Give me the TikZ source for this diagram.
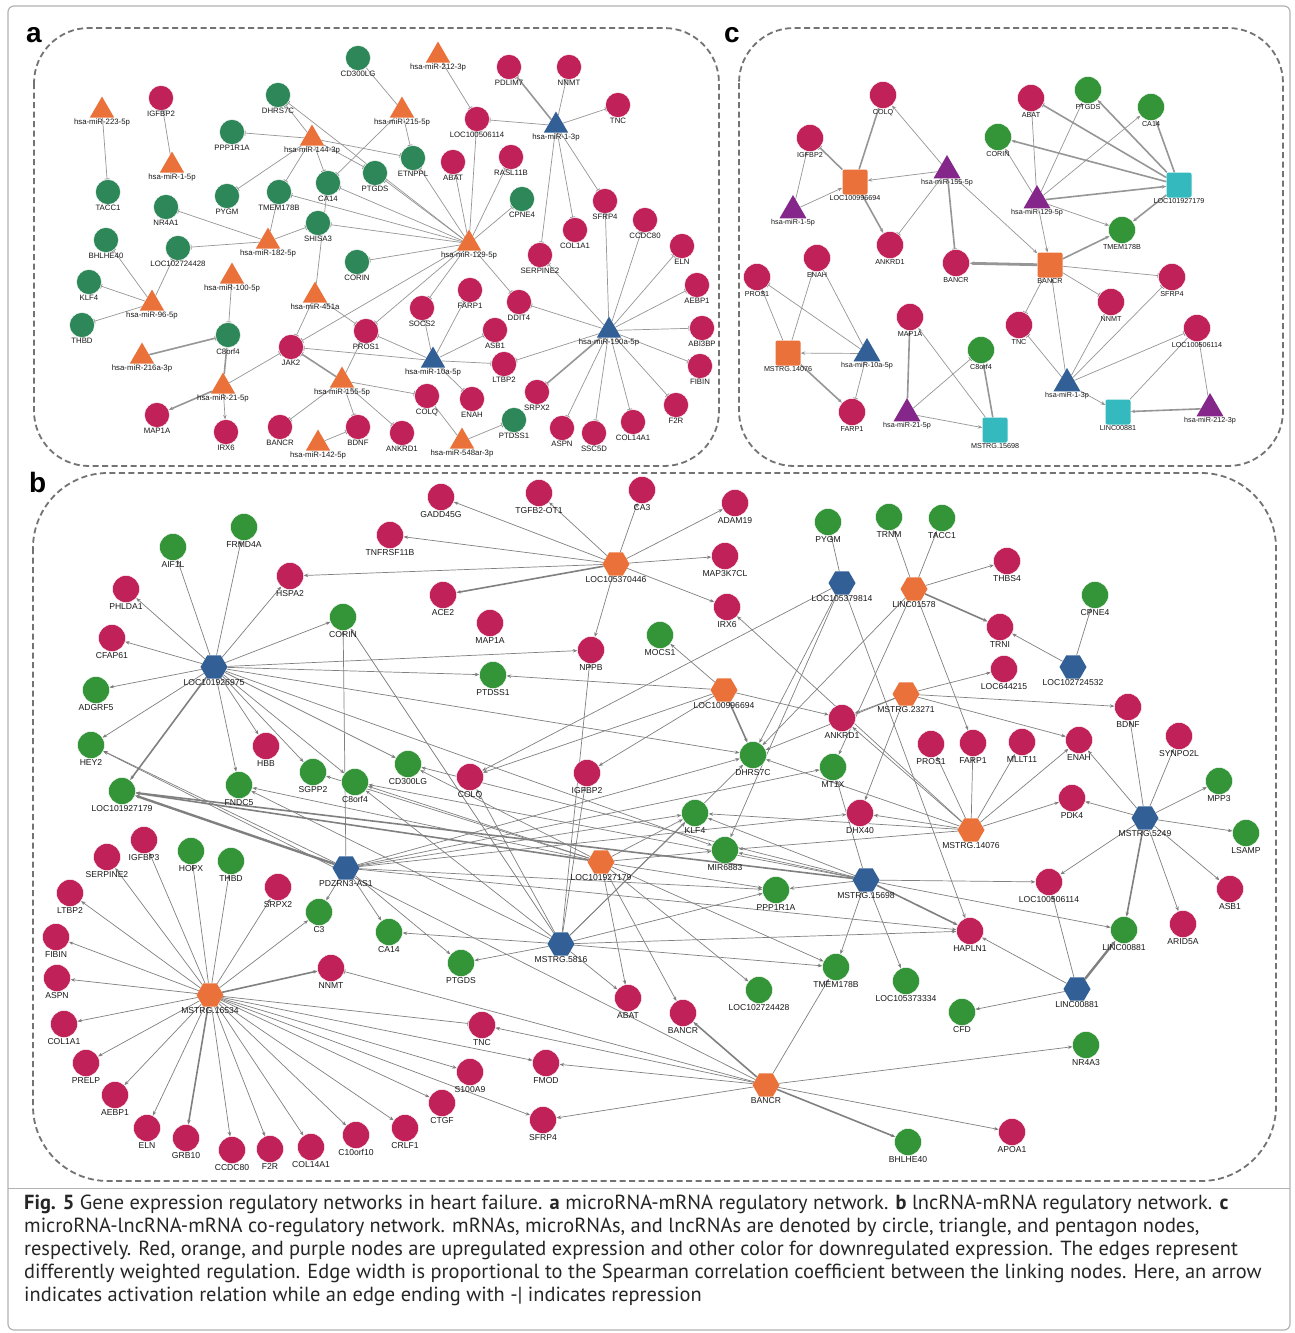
\documentclass[tikz,border=0pt]{standalone}
\usepackage{fontspec}
\setmainfont{Liberation Sans}
\newfontfamily\capfont{PT Sans}
\usetikzlibrary{shapes.geometric,arrows.meta}
\pgfdeclarelayer{bg}
\pgfsetlayers{bg,main}

\definecolor{upred}{RGB}{192,33,88}
\definecolor{dngreena}{RGB}{46,135,88}
\definecolor{dngreen}{RGB}{52,148,56}
\definecolor{mirorange}{RGB}{234,114,58}
\definecolor{mirblue}{RGB}{50,96,150}
\definecolor{mirpurple}{RGB}{132,38,138}
\definecolor{lnteal}{RGB}{52,186,190}
\definecolor{edgegray}{RGB}{150,150,150}
\definecolor{boxgray}{RGB}{115,115,115}

\tikzset{
  mup/.style={circle,fill=upred,draw=white,line width=0.4pt,minimum size=25pt,inner sep=0pt},
  mdn/.style={mup,fill=dngreen},
  tri/.style={regular polygon,regular polygon sides=3,minimum size=28pt,inner sep=0pt,yshift=-3.5pt},
  mirup/.style={tri,fill=mirorange},
  mirdn/.style={tri,fill=mirblue},
  mirpu/.style={tri,fill=mirpurple},
  hex/.style={regular polygon,regular polygon sides=6,minimum size=27pt,inner sep=0pt},
  lnup/.style={hex,fill=mirorange},
  lndn/.style={hex,fill=mirblue},
  sq/.style={rectangle,rounded corners=2pt,minimum size=25pt,inner sep=0pt},
  squp/.style={sq,fill=mirorange},
  sqdn/.style={sq,fill=lnteal},
  link/.style={draw=edgegray,line width=0.7pt},
  act/.style={link,-{Stealth[length=4.5pt,width=3.5pt]}},
  rep/.style={link,-{Bar[width=5pt,line width=0.8pt]}},
  thk/.style={line width=1.6pt},
  panel/.style={draw=boxgray,line width=1.8pt,dash pattern=on 6pt off 3.5pt,rounded corners=55pt},
  plabel/.style={font=\fontsize{28}{28}\selectfont\bfseries,anchor=base west,inner sep=0pt}
}

\begin{document}
\begin{tikzpicture}[x=1pt,y=-1pt]
\useasboundingbox (0,0) rectangle (1295,1333);
\begin{pgfonlayer}{bg}
\fill[white] (0,0) rectangle (1295,1333);
\end{pgfonlayer}
\draw[black!30,line width=1.2pt,rounded corners=6pt] (8,6) rectangle (1290,1330);
\draw[black!30,line width=1pt] (8,1188) -- (1290,1188);

\draw[panel] (34,28) rectangle (719,466);
\draw[panel] (739,28) rectangle (1283,466);
\draw[panel,rounded corners=75pt] (33,473) rectangle (1276,1181);
\node[plabel] (la) at (26,42) {a};
\node[plabel] (lc) at (724,42) {c};
\node[plabel] (lb) at (29,492) {b};

% panel a
\begin{scope}[every label/.style={font=\fontsize{7.8}{8}\selectfont,inner sep=0.6pt,text=black!90},mdn/.append style={fill=dngreena}]
\node[mirup,label=below:hsa-miR-223-5p] (aM223) at (102,107) {};
\node[mirup,label=below:hsa-miR-212-3p] (aM212) at (438,52) {};
\node[mirup,label=below:hsa-miR-215-5p] (aM215) at (402,107) {};
\node[mirup,label=below:hsa-miR-144-3p] (aM144) at (312,135) {};
\node[mirup,label=below:hsa-miR-1-5p] (aM15p) at (172,162) {};
\node[mirup,label=below:hsa-miR-182-5p] (aM182) at (268,238) {};
\node[mirup,label=below:hsa-miR-129-5p] (aM129) at (469,240) {};
\node[mirup,label=below:hsa-miR-100-5p] (aM100) at (232,273) {};
\node[mirup,label=below:hsa-miR-96-5p] (aM96) at (152,300) {};
\node[mirup,label=below:hsa-miR-451a] (aM451) at (315,292) {};
\node[mirup,label=below:hsa-miR-216a-3p] (aM216) at (142,353) {};
\node[mirup,label=below:hsa-miR-21-5p] (aM21) at (223,383) {};
\node[mirup,label=below:hsa-miR-155-5p] (aM155) at (342,377) {};
\node[mirup,label=below:hsa-miR-142-5p] (aM142) at (318,440) {};
\node[mirup,label=below:hsa-miR-548ar-3p] (aM548) at (462,438) {};
\node[mirdn,label=below:hsa-miR-1-3p] (aM13p) at (556,122) {};
\node[mirdn,label=below:hsa-miR-10a-5p] (aM10a) at (433,357) {};
\node[mirdn,label=below:hsa-miR-190a-5p] (aM190) at (609,327) {};
\node[mup,label=below:IGFBP2] (aIGFBP2) at (161,98) {};
\node[mup,label=below:PDLIM7] (aPDLIM7) at (509,67) {};
\node[mup,label=below:NNMT] (aNNMT) at (569,67) {};
\node[mup,label=below:TNC] (aTNC) at (618,105) {};
\node[mup,label=below:LOC100506114] (aLOC506) at (477,119) {};
\node[mup,label=below:ABAT] (aABAT) at (453,162) {};
\node[mup,label=below:RASL11B] (aRASL) at (511,157) {};
\node[mup,label=below:SFRP4] (aSFRP4) at (605,201) {};
\node[mup,label=below:CCDC80] (aCCDC80) at (645,220) {};
\node[mup,label=below:COL1A1] (aCOL1A1) at (575,230) {};
\node[mup,label=below:ELN] (aELN) at (682,246) {};
\node[mup,label=below:SERPINE2] (aSERPINE2) at (540,255) {};
\node[mup,label=below:AEBP1] (aAEBP1) at (697,285) {};
\node[mup,label=below:FARP1] (aFARP1) at (470,290) {};
\node[mup,label=below:DDIT4] (aDDIT4) at (519,302) {};
\node[mup,label=below:SOCS2] (aSOCS2) at (422,308) {};
\node[mup,label=below:PROS1] (aPROS1) at (366,331) {};
\node[mup,label=below:ASB1] (aASB1) at (495,330) {};
\node[mup,label=below:ABI3BP] (aABI3BP) at (702,328) {};
\node[mup,label=below:JAK2] (aJAK2) at (291,347) {};
\node[mup,label=below:LTBP2] (aLTBP2) at (504,364) {};
\node[mup,label=below:FIBIN] (aFIBIN) at (700,366) {};
\node[mup,label=below:SRPX2] (aSRPX2) at (537,392) {};
\node[mup,label=below:COLQ] (aCOLQ) at (427,396) {};
\node[mup,label=below:ENAH] (aENAH) at (472,399) {};
\node[mup,label=below:F2R] (aF2R) at (676,405) {};
\node[mup,label=below:MAP1A] (aMAP1A) at (157,415) {};
\node[mup,label=below:IRX6] (aIRX6) at (226,432) {};
\node[mup,label=below:BANCR] (aBANCR) at (280,427) {};
\node[mup,label=below:BDNF] (aBDNF) at (358,427) {};
\node[mup,label=below:ANKRD1] (aANKRD1) at (402,433) {};
\node[mup,label=below:ASPN] (aASPN) at (562,428) {};
\node[mup,label=below:SSC5D] (aSSC5D) at (594,433) {};
\node[mup,label=below:COL14A1] (aCOL14A1) at (633,422) {};
\node[mdn,label=below:CD300LG] (aCD300LG) at (358,58) {};
\node[mdn,label=below:DHRS7C] (aDHRS7C) at (278,95) {};
\node[mdn,label=below:PPP1R1A] (aPPP1R1A) at (232,132) {};
\node[mdn,label=below:TACC1] (aTACC1) at (108,192) {};
\node[mdn,label=below:NR4A1] (aNR4A1) at (166,207) {};
\node[mdn,label=below:PYGM] (aPYGM) at (227,196) {};
\node[mdn,label=below:TMEM178B] (aTMEM178B) at (279,192) {};
\node[mdn,label=below:CA14] (aCA14) at (328,183) {};
\node[mdn,label=below:PTGDS] (aPTGDS) at (375,173) {};
\node[mdn,label=below:SHISA3] (aSHISA3) at (318,223) {};
\node[mdn,label=below:ETNPPL] (aETNPPL) at (413,158) {};
\node[mdn,label=below:CPNE4] (aCPNE4) at (522,199) {};
\node[mdn,label=below:BHLHE40] (aBHLHE40) at (106,240) {};
\node[mdn,label=below:LOC102724428] (aLOC428) at (178,248) {};
\node[mdn,label=below:CORIN] (aCORIN) at (357,262) {};
\node[mdn,label=below:KLF4] (aKLF4) at (89,282) {};
\node[mdn,label=below:THBD] (aTHBD) at (82,325) {};
\node[mdn,label=below:C8orf4] (aC8orf4) at (228,335) {};
\node[mdn,label=below:PTDSS1] (aPTDSS1) at (514,420) {};
\end{scope}

% panel c
\begin{scope}[every label/.style={font=\fontsize{7.2}{8}\selectfont,inner sep=0.6pt,text=black!90},mup/.append style={minimum size=27pt},tri/.append style={minimum size=31pt}]
\node[mup,label=below:COLQ] (cCOLQ) at (883,95) {};
\node[mup,label=below:IGFBP2] (cIGFBP2) at (810,138) {};
\node[mup,label=below:ABAT] (cABAT) at (1031,98) {};
\node[mdn,label=below:PTGDS] (cPTGDS) at (1088,90) {};
\node[mdn,label=below:CA14] (cCA14) at (1151,107) {};
\node[mdn,label=below:CORIN] (cCORIN) at (998,137) {};
\node[mirpu,label=below:hsa-miR-155-5p] (cM155) at (947,167) {};
\node[squp,label=below:LOC100996694] (cL996694) at (855,182) {};
\node[mirpu,label=below:hsa-miR-1-5p] (cM15p) at (793,207) {};
\node[mirpu,label=below:hsa-miR-129-5p] (cM129) at (1037,197) {};
\node[sqdn,label=below:LOC101927179] (cL927179) at (1179,185) {};
\node[mdn,label=below:TMEM178B] (cTMEM178B) at (1122,230) {};
\node[mup,label=below:ANKRD1] (cANKRD1) at (890,245) {};
\node[mup,label=below:BANCR] (cBANCR) at (956,263) {};
\node[squp,label=below:BANCR] (cBANCRs) at (1050,265) {};
\node[mup,label=below:ENAH] (cENAH) at (817,258) {};
\node[mup,label=below:PROS1] (cPROS1) at (757,277) {};
\node[mup,label=below:SFRP4] (cSFRP4) at (1172,277) {};
\node[mup,label=below:NNMT] (cNNMT) at (1111,302) {};
\node[mup,label=below:TNC] (cTNC) at (1019,325) {};
\node[mup,label=below:MAP1A] (cMAP1A) at (910,317) {};
\node[mup,label=below:LOC100506114] (cL506114) at (1197,328) {};
\node[squp,label=below:MSTRG.14076] (cMS14076) at (788,353) {};
\node[mirdn,label=below:hsa-miR-10a-5p] (cM10a) at (867,350) {};
\node[mdn,label=below:C8orf4] (cC8orf4) at (981,350) {};
\node[mirdn,label=below:hsa-miR-1-3p] (cM13p) at (1067,380) {};
\node[mirpu,label=below:hsa-miR-21-5p] (cM21) at (907,410) {};
\node[mup,label=below:FARP1] (cFARP1) at (852,412) {};
\node[sqdn,label=below:LINC00881] (cLINC881) at (1118,412) {};
\node[mirpu,label=below:hsa-miR-212-3p] (cM212) at (1210,405) {};
\node[sqdn,label=below:MSTRG.15698] (cMS15698) at (995,430) {};
\end{scope}

% panel b
\begin{scope}[every label/.style={font=\fontsize{8.6}{9}\selectfont,inner sep=0.8pt,text=black!90},mup/.append style={minimum size=27pt}]
\node[lndn,label=below:LOC101926975] (bL926975) at (214,667) {};
\node[lnup,label=below:LOC105370446] (bL370446) at (616,564) {};
\node[lndn,label=below:LOC105379814] (bL379814) at (842,583) {};
\node[lnup,label=below:LINC01578] (bLINC01578) at (914,589) {};
\node[lndn,label=below:LOC102724532] (bL724532) at (1073,667) {};
\node[lnup,label=below:LOC100996694] (bL996694) at (724,690) {};
\node[lnup,label=below:MSTRG.23271] (bMS23271) at (906,694) {};
\node[lnup,label=below:MSTRG.14076] (bMS14076) at (971,830) {};
\node[lndn,label=below:MSTRG.5249] (bMS5249) at (1145,818) {};
\node[lndn,label=below:PDZRN3-AS1] (bPDZ) at (346,868) {};
\node[lnup,label=below:LOC101927179] (bL927179) at (601,862) {};
\node[lndn,label=below:MSTRG.15698] (bMS15698) at (866,880) {};
\node[lndn,label=below:MSTRG.5816] (bMS5816) at (561,944) {};
\node[lnup,label=below:MSTRG.16534] (bMS16534) at (210,995) {};
\node[lndn,label=below:LINC00881] (bLINC881) at (1077,989) {};
\node[lnup,label=below:BANCR] (bBANCRh) at (766,1085) {};
\node[mup,label=below:GADD45G] (bGADD45G) at (441,497) {};
\node[mup,label=below:TNFRSF11B] (bTNFRSF11B) at (390,535) {};
\node[mup,label=below:TGFB2-OT1] (bTGFB2) at (539,493) {};
\node[mup,label=below:CA3] (bCA3) at (642,490) {};
\node[mup,label=below:ADAM19] (bADAM19) at (735,503) {};
\node[mup,label=below:HSPA2] (bHSPA2) at (290,576) {};
\node[mup,label=below:PHLDA1] (bPHLDA1) at (126,589) {};
\node[mup,label=below:ACE2] (bACE2) at (443,595) {};
\node[mup,label=below:MAP3K7CL] (bMAP3K7CL) at (725,556) {};
\node[mup,label=below:THBS4] (bTHBS4) at (1007,561) {};
\node[mup,label=below:CFAP61] (bCFAP61) at (112,638) {};
\node[mup,label=below:IRX6] (bIRX6) at (727,607) {};
\node[mup,label=below:MAP1A] (bMAP1A) at (490,623) {};
\node[mup,label=below:TRNI] (bTRNI) at (1000,627) {};
\node[mup,label=below:NPPB] (bNPPB) at (591,650) {};
\node[mup,label=below:LOC644215] (bLOC644215) at (1004,669) {};
\node[mup,label=below:BDNF] (bBDNF) at (1128,707) {};
\node[mup,label=below:ANKRD1] (bANKRD1) at (842,718) {};
\node[mup,label=below:HBB] (bHBB) at (266,746) {};
\node[mup,label=below:PROS1] (bPROS1) at (931,744) {};
\node[mup,label=below:FARP1] (bFARP1) at (973,743) {};
\node[mup,label=below:MLLT11] (bMLLT11) at (1022,742) {};
\node[mup,label=below:ENAH] (bENAH) at (1079,740) {};
\node[mup,label=below:SYNPO2L] (bSYNPO2L) at (1179,736) {};
\node[mup,label=below:COLQ] (bCOLQ) at (470,777) {};
\node[mup,label=below:IGFBP2] (bIGFBP2) at (587,773) {};
\node[mup,label=below:PDK4] (bPDK4) at (1072,798) {};
\node[mup,label=below:DHX40] (bDHX40) at (860,813) {};
\node[mup,label=below:IGFBP3] (bIGFBP3) at (144,840) {};
\node[mup,label=below:SERPINE2] (bSERPINE2) at (107,857) {};
\node[mup,label=below:SRPX2] (bSRPX2) at (278,887) {};
\node[mup,label=below:LOC100506114] (bLOC506114) at (1049,882) {};
\node[mup,label=below:ASB1] (bASB1) at (1230,889) {};
\node[mup,label=below:LTBP2] (bLTBP2) at (70,893) {};
\node[mup,label=below:HAPLN1] (bHAPLN1) at (970,931) {};
\node[mup,label=below:ARID5A] (bARID5A) at (1183,924) {};
\node[mup,label=below:FIBIN] (bFIBIN) at (56,937) {};
\node[mup,label=below:NNMT] (bNNMT) at (331,968) {};
\node[mup,label=below:ASPN] (bASPN) at (57,978) {};
\node[mup,label=below:ABAT] (bABAT) at (628,998) {};
\node[mup,label=below:BANCR] (bBANCR) at (683,1013) {};
\node[mup,label=below:COL1A1] (bCOL1A1) at (64,1024) {};
\node[mup,label=below:TNC] (bTNC) at (482,1025) {};
\node[mup,label=below:PRELP] (bPRELP) at (86,1063) {};
\node[mup,label=below:FMOD] (bFMOD) at (546,1063) {};
\node[mup,label=below:S100A9] (bS100A9) at (470,1072) {};
\node[mup,label=below:AEBP1] (bAEBP1) at (115,1095) {};
\node[mup,label=below:CTGF] (bCTGF) at (442,1103) {};
\node[mup,label=below:SFRP4] (bSFRP4) at (543,1120) {};
\node[mup,label=below:ELN] (bELN) at (147,1128) {};
\node[mup,label=below:CRLF1] (bCRLF1) at (405,1128) {};
\node[mup,label=below:APOA1] (bAPOA1) at (1012,1132) {};
\node[mup,label=below:C10orf10] (bC10orf10) at (356,1135) {};
\node[mup,label=below:GRB10] (bGRB10) at (186,1138) {};
\node[mup,label=below:COL14A1] (bCOL14A1) at (311,1147) {};
\node[mup,label=below:F2R] (bF2R) at (270,1149) {};
\node[mup,label=below:CCDC80] (bCCDC80) at (232,1150) {};
\node[mdn,label=below:FRMD4A] (bFRMD4A) at (244,527) {};
\node[mdn,label=below:AIF1L] (bAIF1L) at (173,547) {};
\node[mdn,label=below:PYGM] (bPYGM) at (828,522) {};
\node[mdn,label=below:TRNM] (bTRNM) at (889,517) {};
\node[mdn,label=below:TACC1] (bTACC1) at (942,518) {};
\node[mdn,label=below:CPNE4] (bCPNE4) at (1095,595) {};
\node[mdn,label=below:CORIN] (bCORIN) at (343,617) {};
\node[mdn,label=below:MOCS1] (bMOCS1) at (660,635) {};
\node[mdn,label=below:PTDSS1] (bPTDSS1) at (493,675) {};
\node[mdn,label=below:ADGRF5] (bADGRF5) at (96,690) {};
\node[mdn,label=below:HEY2] (bHEY2) at (91,745) {};
\node[mdn,label=below:DHRS7C] (bDHRS7C) at (753,755) {};
\node[mdn,label=below:MT1X] (bMT1X) at (833,767) {};
\node[mdn,label=below:CD300LG] (bCD300LG) at (408,764) {};
\node[mdn,label=below:SGPP2] (bSGPP2) at (313,772) {};
\node[mdn,label=below:C8orf4] (bC8orf4) at (355,782) {};
\node[mdn,label=below:MPP3] (bMPP3) at (1219,781) {};
\node[mdn,label=below:FNDC5] (bFNDC5) at (239,785) {};
\node[mdn,label=below:LOC101927179] (bLOC927179) at (122,791) {};
\node[mdn,label=below:KLF4] (bKLF4) at (695,813) {};
\node[mdn,label=below:LSAMP] (bLSAMP) at (1246,833) {};
\node[mdn,label=below:MIR6883] (bMIR6883) at (725,850) {};
\node[mdn,label=below:HOPX] (bHOPX) at (191,851) {};
\node[mdn,label=below:THBD] (bTHBD) at (231,861) {};
\node[mdn,label=below:PPP1R1A] (bPPP1R1A) at (776,890) {};
\node[mdn,label=below:C3] (bC3) at (319,912) {};
\node[mdn,label=below:LINC00881] (bLINC881g) at (1124,930) {};
\node[mdn,label=below:CA14] (bCA14) at (389,932) {};
\node[mdn,label=below:PTGDS] (bPTGDS) at (461,963) {};
\node[mdn,label=below:TMEM178B] (bTMEM178B) at (836,967) {};
\node[mdn,label=below:LOC105373334] (bLOC105373334) at (906,981) {};
\node[mdn,label=below:LOC102724428] (bLOC724428) at (759,990) {};
\node[mdn,label=below:CFD] (bCFD) at (962,1012) {};
\node[mdn,label=below:NR4A3] (bNR4A3) at (1086,1045) {};
\node[mdn,label=below:BHLHE40] (bBHLHE40) at (908,1142) {};
\end{scope}

\begin{pgfonlayer}{bg}
\draw[rep] (aM223) edge (aTACC1);
\draw[rep] (aM15p) edge (aIGFBP2);
\draw[rep] (aM144) edge (aPPP1R1A) edge (aDHRS7C) edge (aPYGM) edge (aTMEM178B) edge (aCA14) edge (aPTGDS) edge (aETNPPL);
\draw[link] (aCD300LG) -- (aM215);
\draw[rep] (aM215) edge (aETNPPL) edge (aCA14);
\draw[rep] (aM212) edge (aLOC506);
\draw[rep] (aM13p) edge[thk] (aPDLIM7) edge (aNNMT) edge (aTNC) edge (aLOC506) edge (aSFRP4) edge (aCOL1A1) edge (aSERPINE2);
\draw[rep] (aM129) edge (aPTGDS) edge (aCA14) edge (aTMEM178B) edge (aSHISA3) edge (aCORIN) edge (aETNPPL) edge (aABAT) edge (aRASL) edge (aCPNE4) edge (aLOC506) edge (aSOCS2) edge (aDDIT4) edge (aPROS1) edge (aJAK2) edge (aDHRS7C);
\draw[rep] (aM182) edge (aNR4A1) edge (aLOC428) edge (aSHISA3) edge (aTMEM178B);
\draw[rep] (aM96) edge (aBHLHE40) edge (aLOC428) edge (aKLF4) edge (aTHBD);
\draw[rep] (aM100) edge (aC8orf4);
\draw[rep,thk] (aM216) edge (aC8orf4);
\draw[link,thk] (aM21) -- (aC8orf4);
\draw[rep] (aM21) edge (aJAK2);
\draw[act] (aM21) edge[thk] (aMAP1A) edge (aIRX6);
\draw[rep] (aM451) edge (aJAK2) edge (aPROS1) edge (aCA14);
\draw[rep] (aM155) edge[thk] (aJAK2) edge (aPROS1) edge (aBANCR) edge (aBDNF) edge (aANKRD1) edge (aCOLQ);
\draw[rep] (aM142) edge (aBDNF);
\draw[link] (aM548) -- (aCOLQ);
\draw[rep] (aM548) edge (aPTDSS1);
\draw[rep] (aM10a) edge (aSOCS2) edge (aFARP1) edge (aASB1) edge (aLTBP2) edge (aENAH) edge (aPROS1) edge (aJAK2);
\draw[rep] (aM190) edge (aSERPINE2) edge (aSFRP4) edge (aCCDC80) edge (aELN) edge (aAEBP1) edge (aABI3BP) edge (aFIBIN) edge (aF2R) edge (aCOL14A1) edge (aSSC5D) edge (aASPN) edge[thk] (aSRPX2) edge (aLTBP2) edge (aDDIT4);

\draw[link,thk] (cCOLQ) -- (cL996694);
\draw[act] (cM155) -- (cCOLQ);
\draw[rep,thk] (cL996694) -- (cIGFBP2);
\draw[act] (cM15p) edge (cIGFBP2) edge (cL996694);
\draw[act] (cM155) -- (cL996694);
\draw[act,thk] (cL996694) -- (cANKRD1);
\draw[rep] (cM155) edge (cANKRD1) edge[thk] (cBANCR);
\draw[act] (cM155) -- (cBANCRs);
\draw[rep] (cM129) edge (cABAT);
\draw[rep,thk] (cL927179) -- (cABAT);
\draw[act] (cM129) edge (cPTGDS) edge (cCA14) edge (cCORIN) edge (cTMEM178B) edge (cBANCRs);
\draw[act,thk] (cL927179) edge (cPTGDS) edge (cCA14) edge (cCORIN) edge (cTMEM178B);
\draw[act,thk] (cM129) -- (cL927179);
\draw[act,thk] (cBANCRs) -- (cTMEM178B);
\draw[act,line width=2.8pt] (cBANCRs) -- (cBANCR);
\draw[rep] (cBANCRs) edge (cSFRP4) edge (cNNMT) edge (cTNC);
\draw[act] (cM13p) edge (cBANCRs) edge (cLINC881);
\draw[rep] (cM13p) edge (cTNC) edge (cSFRP4) edge (cL506114);
\draw[link] (cM13p) -- (cNNMT);
\draw[link] (cLINC881) -- (cL506114);
\draw[act,thk] (cM212) -- (cLINC881);
\draw[act] (cM212) -- (cL506114);
\draw[act] (cMS14076) edge (cPROS1) edge (cENAH) edge[thk] (cFARP1);
\draw[act] (cM10a) -- (cMS14076);
\draw[rep] (cM10a) edge (cPROS1) edge (cFARP1);
\draw[link] (cM10a) -- (cENAH);
\draw[act,thk] (cM21) -- (cMAP1A);
\draw[rep] (cM21) -- (cC8orf4);
\draw[act] (cM21) -- (cMS15698);
\draw[act] (cMS15698) edge (cMAP1A) edge[thk] (cC8orf4);

\begin{scope}[link/.append style={draw=edgegray!85!black}]
\draw[act] (bL926975) edge (bAIF1L) edge (bFRMD4A) edge (bPHLDA1) edge (bCFAP61) edge (bADGRF5) edge (bHEY2) edge[thk] (bLOC927179) edge (bFNDC5) edge (bHBB) edge (bSGPP2) edge (bC8orf4) edge (bCD300LG) edge (bCORIN) edge (bPTDSS1) edge (bNPPB) edge (bHSPA2) edge (bDHRS7C) edge (bMIR6883);
\draw[act] (bL370446) edge (bGADD45G) edge (bTGFB2) edge (bCA3) edge (bADAM19) edge (bMAP3K7CL) edge (bIRX6) edge (bNPPB) edge[thk] (bACE2) edge (bHSPA2) edge (bTNFRSF11B);
\draw[act] (bL379814) edge (bPYGM) edge (bDHRS7C) edge (bCOLQ) edge (bHAPLN1) edge (bMIR6883);
\draw[act] (bLINC01578) edge (bTRNM) edge (bTACC1) edge (bTHBS4) edge[thk] (bTRNI) edge (bDHRS7C) edge (bMT1X) edge (bFARP1);
\draw[act] (bL724532) edge (bCPNE4) edge (bTRNI);
\draw[act] (bMS23271) edge (bLOC644215) edge (bBDNF) edge (bENAH) edge (bANKRD1) edge (bDHX40) edge (bDHRS7C);
\draw[act] (bL996694) edge (bPTDSS1) edge (bANKRD1) edge[thk] (bDHRS7C) edge (bMOCS1) edge (bIGFBP2) edge (bCOLQ);
\draw[act] (bMS14076) edge (bPROS1) edge (bFARP1) edge (bMLLT11) edge (bENAH) edge (bPDK4) edge (bDHX40) edge (bDHRS7C) edge (bKLF4) edge (bMIR6883) edge (bANKRD1) edge (bIRX6);
\draw[act] (bMS5249) edge (bBDNF) edge (bSYNPO2L) edge (bMPP3) edge (bLSAMP) edge (bASB1) edge (bARID5A) edge[thk] (bLINC881g) edge (bLOC506114) edge (bPDK4) edge (bENAH);
\draw[act] (bMS15698) edge (bLOC506114) edge[thk] (bHAPLN1) edge (bLINC881g) edge (bLOC105373334) edge (bPPP1R1A) edge (bTMEM178B) edge (bMIR6883) edge (bKLF4) edge (bMT1X) edge[thk] (bLOC927179) edge (bC8orf4) edge (bCD300LG);
\draw[act] (bLINC881) edge[line width=2.4pt] (bLINC881g) edge (bCFD) edge (bHAPLN1) edge (bLOC506114);
\draw[act] (bPDZ) edge (bC3) edge (bCA14) edge (bPTGDS) edge[line width=2.4pt] (bLOC927179) edge (bHAPLN1) edge (bDHX40) edge (bDHRS7C) edge (bKLF4) edge (bCORIN) edge (bMT1X) edge (bPPP1R1A) edge (bHEY2);
\draw[act] (bL927179) edge (bMIR6883) edge (bPPP1R1A) edge (bLOC724428) edge (bBANCR) edge (bABAT) edge (bTMEM178B) edge (bC8orf4) edge (bSGPP2) edge (bCD300LG) edge[thk] (bLOC927179) edge (bKLF4) edge (bFNDC5);
\draw[act] (bMS5816) edge (bCORIN) edge (bPTGDS) edge (bCA14) edge (bC8orf4) edge (bKLF4) edge (bTMEM178B) edge (bHAPLN1) edge (bPPP1R1A) edge (bNPPB) edge (bABAT) edge (bCOLQ) edge (bDHRS7C) edge (bFNDC5) edge (bIGFBP2);
\draw[act] (bMS16534) edge (bIGFBP3) edge (bSERPINE2) edge (bHOPX) edge (bTHBD) edge (bSRPX2) edge (bLTBP2) edge (bC3) edge (bFIBIN) edge (bASPN) edge[thk] (bNNMT) edge (bCOL1A1) edge (bPRELP) edge (bAEBP1) edge (bELN) edge[thk] (bGRB10) edge (bCCDC80) edge (bF2R) edge (bCOL14A1) edge (bC10orf10) edge (bCRLF1) edge (bCTGF) edge (bFMOD) edge (bS100A9) edge (bSFRP4);
\draw[rep] (bMS16534) edge (bTNC);
\draw[act] (bBANCRh) edge[thk] (bBANCR) edge (bTMEM178B) edge (bNR4A3) edge (bAPOA1) edge[thk] (bBHLHE40) edge (bSFRP4) edge (bFMOD) edge (bTNC) edge (bHEY2);
\draw[rep] (bBANCRh) edge (bNNMT);
\end{scope}
\end{pgfonlayer}

\node[anchor=north west,inner sep=0pt,align=left,font=\capfont\fontsize{20.4}{22.9}\selectfont,text=black!85] (caption) at (24,1195)
{\textbf{Fig. 5} Gene expression regulatory networks in heart failure. \textbf{a} microRNA-mRNA regulatory network. \textbf{b} lncRNA-mRNA regulatory network. \textbf{c}\\
microRNA-lncRNA-mRNA co-regulatory network. mRNAs, microRNAs, and lncRNAs are denoted by circle, triangle, and pentagon nodes,\\
respectively. Red, orange, and purple nodes are upregulated expression and other color for downregulated expression. The edges represent\\
differently weighted regulation. Edge width is proportional to the Spearman correlation coefficient between the linking nodes. Here, an arrow\\
indicates activation relation while an edge ending with -| indicates repression};
\end{tikzpicture}
\end{document}
